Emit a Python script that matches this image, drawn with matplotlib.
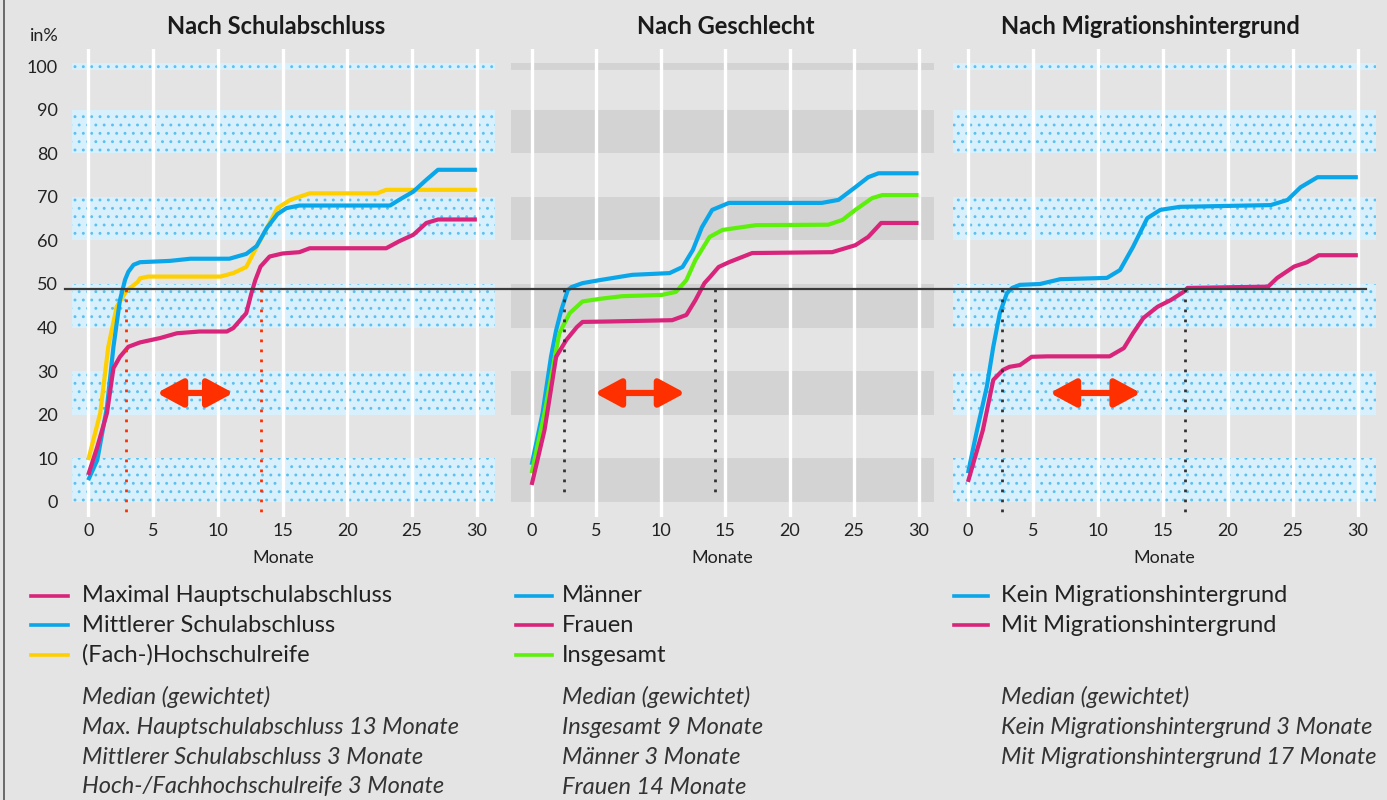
import matplotlib
matplotlib.use("Agg")
import matplotlib.pyplot as plt
from matplotlib.lines import Line2D
from matplotlib.transforms import blended_transform_factory

plt.rcParams.update({
    "font.family": ["Lato", "DejaVu Sans"],
    "hatch.linewidth": 0.9,
})

W, H = 1387, 800
BG = "#e4e4e4"
PINK = "#d8247a"
BLUE = "#0aa6ea"
YELLOW = "#ffd000"
GREEN = "#5cf00a"
ARROW = "#ff3000"

TITLES = ["Nach Schulabschluss", "Nach Geschlecht", "Nach Migrationshintergrund"]
XTICKS = [0, 5, 10, 15, 20, 25, 30]
YTICKS = [0, 10, 20, 30, 40, 50, 60, 70, 80, 90, 100]
BANDS = [(0, 10), (20, 30), (40, 50), (60, 70), (80, 90), (99.2, 100.6)]
MEDIAN_LEVEL = 48.9

# --- Nach Schulabschluss
haupt_x = [0, 0.7, 1.45, 1.95, 2.45, 3.1, 4.0, 5.55, 6.85, 8.6, 10.7, 11.2, 12.2, 12.6, 12.9,
           13.3, 14.0, 15.0, 16.3, 17.1, 23.0, 24.0, 25.1, 26.1, 27.0, 30.0]
haupt_y = [6.2, 12.6, 20.4, 30.7, 33.3, 35.6, 36.6, 37.6, 38.7, 39.1, 39.1, 39.9, 43.3, 47.9, 50.9,
           54.0, 56.3, 57.0, 57.3, 58.2, 58.2, 59.8, 61.3, 64.0, 64.8, 64.8]
mittel_x = [0, 0.7, 1.45, 1.95, 2.45, 2.85, 3.1, 3.5, 4.0, 6.3, 7.9, 10.9, 12.2, 13.0, 13.8, 14.6,
            15.3, 16.3, 23.3, 24.0, 25.1, 26.1, 27.0, 30.0]
mittel_y = [5.0, 9.6, 21.8, 35.6, 46.3, 51.0, 52.8, 54.4, 55.0, 55.3, 55.8, 55.8, 56.9, 58.7, 62.9,
            66.0, 67.4, 68.0, 68.0, 69.3, 71.2, 73.9, 76.2, 76.2]
hoch_x = [0, 0.93, 1.55, 2.2, 3.0, 3.8, 4.0, 4.6, 10.2, 11.2, 12.2, 13.0, 13.8, 14.6, 15.6, 17.1,
          22.3, 23.0, 30.0]
hoch_y = [9.6, 20.4, 35.6, 44.8, 48.6, 50.4, 51.3, 51.7, 51.7, 52.5, 53.9, 58.5, 62.9, 67.4, 69.3,
          70.8, 70.8, 71.6, 71.6]

# --- Nach Geschlecht
maenner_x = [0, 0.85, 1.5, 1.9, 2.3, 2.8, 3.1, 3.95, 5.3, 7.8, 10.7, 11.7, 12.5, 13.2, 14.0, 15.3,
             22.5, 23.8, 25.1, 26.1, 26.9, 30.0]
maenner_y = [8.5, 20.4, 33.3, 39.4, 44.0, 48.6, 49.3, 50.2, 50.9, 52.1, 52.5, 53.9, 57.8, 63.0,
             67.0, 68.6, 68.6, 69.3, 72.2, 74.5, 75.4, 75.4]
frauen_x = [0, 1.0, 1.9, 2.7, 3.5, 3.95, 6.0, 10.9, 12.0, 12.7, 13.4, 13.8, 14.5, 15.3, 17.1,
            23.3, 25.1, 26.1, 27.1, 30.0]
frauen_y = [3.9, 16.5, 33.3, 37.2, 40.1, 41.3, 41.4, 41.7, 42.9, 46.3, 50.2, 51.5, 53.9, 55.0,
            57.1, 57.3, 58.9, 60.8, 64.0, 64.0]
gesamt_x = [0, 1.0, 1.8, 2.15, 2.95, 3.95, 5.3, 7.0, 10.1, 11.2, 12.0, 12.7, 13.8, 14.8, 17.4,
            23.0, 24.1, 25.1, 26.4, 27.2, 30.0]
gesamt_y = [6.6, 20.4, 33.3, 38.7, 43.3, 46.0, 46.6, 47.2, 47.5, 48.2, 50.9, 55.5, 60.8, 62.4,
            63.5, 63.6, 64.7, 67.0, 69.7, 70.4, 70.4]

# --- Nach Migrationshintergrund
kein_x = [0, 0.7, 1.45, 1.95, 2.45, 3.0, 3.4, 4.0, 5.55, 7.1, 10.7, 11.7, 12.7, 13.8, 14.8, 16.3,
          23.3, 24.6, 25.6, 26.9, 30.0]
kein_y = [6.6, 16.5, 26.4, 35.6, 43.3, 47.9, 49.1, 49.8, 50.0, 51.1, 51.4, 53.2, 58.5, 65.1, 67.0,
          67.7, 68.1, 69.3, 72.2, 74.5, 74.5]
mit_x = [0, 1.15, 1.95, 2.7, 3.2, 4.0, 4.9, 6.1, 10.9, 12.0, 12.7, 13.5, 14.6, 15.6, 16.6, 16.9,
         23.1, 23.8, 25.1, 26.1, 27.0, 30.0]
mit_y = [4.6, 16.5, 28.0, 30.3, 31.0, 31.4, 33.3, 33.4, 33.4, 35.3, 38.7, 42.2, 44.8, 46.3, 48.2,
         49.1, 49.4, 51.4, 54.0, 55.0, 56.6, 56.6]

series = [
    [("Maximal Hauptschulabschluss", haupt_x, haupt_y, PINK),
     ("Mittlerer Schulabschluss", mittel_x, mittel_y, BLUE),
     ("(Fach-)Hochschulreife", hoch_x, hoch_y, YELLOW)],
    [("Männer", maenner_x, maenner_y, BLUE),
     ("Frauen", frauen_x, frauen_y, PINK),
     ("Insgesamt", gesamt_x, gesamt_y, GREEN)],
    [("Kein Migrationshintergrund", kein_x, kein_y, BLUE),
     ("Mit Migrationshintergrund", mit_x, mit_y, PINK)],
]
draw_order = [[2, 1, 0], [0, 2, 1], [0, 1]]

medians = [[2.93, 13.34], [2.5, 14.2], [2.6, 16.7]]
median_bottom = [-2.5, 1.0, -2.3]
arrows = [(5.3, 11.2), (4.9, 11.9), (6.3, 13.3)]
ARROW_Y = 25

median_texts = [
    ["Median (gewichtet)", "Max. Hauptschulabschluss 13 Monate",
     "Mittlerer Schulabschluss 3 Monate", "Hoch-/Fachhochschulreife 3 Monate"],
    ["Median (gewichtet)", "Insgesamt 9 Monate", "Männer 3 Monate", "Frauen 14 Monate"],
    ["Median (gewichtet)", "Kein Migrationshintergrund 3 Monate",
     "Mit Migrationshintergrund 17 Monate"],
]

# layout (pixels)
panel_left = [72, 511, 953]
panel_w = 423
ax_top, ax_bot = 48.6, 517
xlims = [(-1.25, 31.4), (-1.6, 31.2), (-1.15, 31.4)]
title_x = [276, 726, 1150]
leg_line_x = [(31, 68), (516, 552), (954, 988)]
leg_text_x = [82, 562, 1001]
leg_rows = [596, 625, 655]
med_rows = [697, 728, 758, 787]


def fx(px):
    return px / W


def fy(py):
    return 1 - py / H


fig = plt.figure(figsize=(W / 100, H / 100), dpi=100, facecolor=BG)
axes = []
for i in range(3):
    ax = fig.add_axes([fx(panel_left[i]), fy(ax_bot), panel_w / W, (ax_bot - ax_top) / H])
    ax.set_facecolor("none")
    ax.set_xlim(*xlims[i])
    ax.set_ylim(-3.45, 104)
    for lo, hi in BANDS:
        if i == 1:
            ax.axhspan(lo, hi, facecolor="#d3d3d3", lw=0, zorder=1)
        else:
            ax.axhspan(lo, hi, facecolor="#d8f0fc", edgecolor="#5cc0f0", lw=0,
                       hatch="..", zorder=1)
    for xt in XTICKS:
        ax.axvline(xt, color="white", lw=2.4, zorder=2)
    for k in draw_order[i]:
        _, xs, ys, c = series[i][k]
        ax.plot(xs, ys, color=c, lw=3.0, solid_capstyle="butt", zorder=4)
    mcol = ARROW if i == 0 else "#333333"
    for m in medians[i]:
        ax.plot([m, m], [MEDIAN_LEVEL, median_bottom[i]], color=mcol, lw=2.0,
                ls=(0, (1, 2.6)), zorder=5)
    a0, a1 = arrows[i]
    ax.annotate("", xy=(a1, ARROW_Y), xytext=(a0, ARROW_Y),
                arrowprops=dict(arrowstyle="<|-|>,head_length=0.78,head_width=0.42",
                                mutation_scale=20, lw=4.5, color=ARROW,
                                shrinkA=0, shrinkB=0), zorder=6)
    ax.set_xticks(XTICKS)
    ax.set_xticklabels([str(t) for t in XTICKS], fontsize=13, color="#222222")
    ax.tick_params(length=0, pad=4)
    ax.set_yticks(YTICKS)
    if i == 0:
        ax.set_yticklabels([str(t) for t in YTICKS], fontsize=13, color="#222222")
        ax.tick_params(axis="y", pad=10)
    else:
        ax.set_yticklabels([])
    ax.set_xlabel("Monate", fontsize=13, color="#222222", labelpad=8)
    for s in ax.spines.values():
        s.set_visible(False)
    axes.append(ax)

# median reference line across all panels
tr = blended_transform_factory(fig.transFigure, axes[0].transData)
fig.add_artist(Line2D([fx(65), fx(1366)], [MEDIAN_LEVEL, MEDIAN_LEVEL], transform=tr,
                      color="#3a3a3a", lw=1.6, zorder=10))

fig.text(fx(44), fy(36), "in%", fontsize=13, ha="center", va="center", color="#222222")
for i in range(3):
    fig.text(fx(title_x[i]), fy(27), TITLES[i], fontsize=17, fontweight="bold",
             ha="center", va="center", color="#1a1a1a")
    for r, (name, _, _, c) in enumerate(series[i]):
        y = fy(leg_rows[r])
        fig.add_artist(Line2D([fx(leg_line_x[i][0]), fx(leg_line_x[i][1])], [y, y],
                              transform=fig.transFigure, color=c, lw=2.6))
        fig.text(fx(leg_text_x[i]), y, name, fontsize=17, ha="left", va="center",
                 color="#222222")
    for r, t in enumerate(median_texts[i]):
        fig.text(fx(leg_text_x[i]), fy(med_rows[r]), t, fontsize=17, style="italic",
                 ha="left", va="center", color="#333333")

fig.add_artist(Line2D([fx(4), fx(4)], [0, 1], transform=fig.transFigure,
                      color="#555555", lw=1.2))

fig.savefig("out.png", dpi=100, facecolor=BG)
